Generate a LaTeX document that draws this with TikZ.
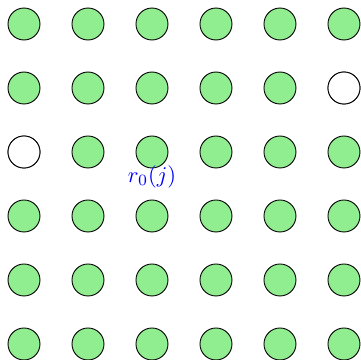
\documentclass[tikz,border=0pt]{standalone}
\usepackage{tikz}
\usetikzlibrary{positioning}
\definecolor{sitegreen}{RGB}{144,238,144}
\begin{document}
\begin{tikzpicture}
  \tikzstyle{site}=[circle,draw=black,fill=sitegreen,minimum size=0.5cm,inner sep=0pt]
  \tikzstyle{empty}=[site,fill=white]
  \tikzstyle{lbl}=[text=blue]
  \useasboundingbox (-0.375,0.375) rectangle (5.266,-5.25);
  % lattice of sites, rows counted from the top
  \foreach \r in {0,...,5}{
    \foreach \c in {0,...,5}{
      \node[site] (n-\c-\r) at (\c,-\r) {};
    }
  }
  % vacant sites
  \node[empty] at (n-5-1) {};
  \node[empty] at (n-0-2) {};
  \node[lbl] (r0) at (2,-2.39) {$r_0(j)$};
\end{tikzpicture}
\end{document}
